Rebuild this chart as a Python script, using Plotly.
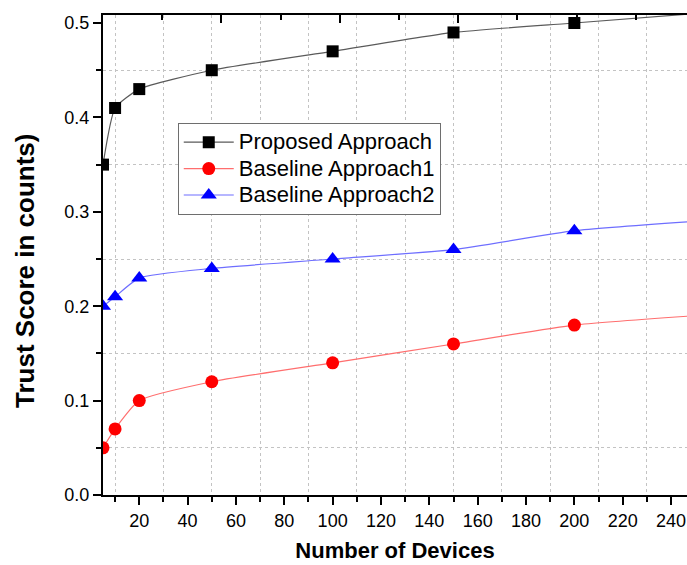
import plotly.graph_objects as go

devices = [5, 10, 20, 50, 100, 150, 200, 250]
proposed = [0.35, 0.41, 0.43, 0.45, 0.47, 0.49, 0.50, 0.51]
baseline1 = [0.05, 0.07, 0.10, 0.12, 0.14, 0.16, 0.18, 0.19]
baseline2 = [0.20, 0.21, 0.23, 0.24, 0.25, 0.26, 0.28, 0.29]
names = ["Proposed Approach", "Baseline Approach1", "Baseline Approach2"]
x_ticks = [20, 40, 60, 80, 100, 120, 140, 160, 180, 200, 220, 240]
x_grid = [10, 30, 50, 70, 90, 110, 130, 150, 170, 190, 210, 230]
y_ticks = [0.0, 0.1, 0.2, 0.3, 0.4, 0.5]
y_grid = [0.05, 0.15, 0.25, 0.35, 0.45]

FONT = "Liberation Sans, Arial, sans-serif"

fig = go.Figure()
series = [
    (proposed, names[0], "rgb(90,90,90)", "black", "square", 12),
    (baseline1, names[1], "rgb(255,110,110)", "red", "circle", 13),
    (baseline2, names[2], "rgb(110,110,255)", "blue", "triangle-up", 14),
]
for vals, nm, lc, mc, sym, ms in series:
    fig.add_trace(go.Scatter(
        x=devices, y=vals, name='<span style="font-size:22px">' + nm + '</span>',
        mode="lines+markers",
        line=dict(color=lc, width=1.2, shape="spline", smoothing=0.5),
        marker=dict(color=mc, symbol=sym, size=ms, line=dict(width=0)),
    ))

# invisible trace for the top (mirror) axis
fig.add_trace(go.Scatter(x=[0, 246.6], y=[0, 0], xaxis="x2", yaxis="y",
                         mode="markers", marker=dict(opacity=0),
                         showlegend=False, hoverinfo="skip"))

fig.update_layout(
    template="none",
    width=687, height=565,
    margin=dict(l=103, r=0, t=15, b=70),
    paper_bgcolor="white", plot_bgcolor="white",
    font=dict(family=FONT, color="black"),
    showlegend=True,
    legend=dict(x=0.128, y=0.775, xanchor="left", yanchor="top",
                bgcolor="white", bordercolor="rgb(110,110,110)", borderwidth=1,
                font=dict(size=18, family=FONT), tracegroupgap=0,
                itemwidth=50),
    xaxis=dict(
        range=[5, 246.6], tickvals=x_ticks, ticks="outside", ticklen=8,
        tickwidth=2, tickcolor="black", showline=True, linewidth=2,
        linecolor="black", showgrid=False, zeroline=False,
        tickfont=dict(size=18, family=FONT),
        minor=dict(tickvals=x_grid,
                   ticks="outside", ticklen=5, tickwidth=2, tickcolor="black",
                   showgrid=True, gridcolor="rgb(195,195,195)", griddash="dot",
                   gridwidth=1),
        title=dict(text="<b>Number of Devices</b>", font=dict(size=22, family=FONT),
                   standoff=13),
    ),
    xaxis2=dict(
        overlaying="x", side="top", range=[0, 246.6], anchor="y",
        tickvals=[50, 100, 150, 200], ticks="inside", ticklen=8, tickwidth=2,
        tickcolor="black", showticklabels=False, showline=True, linewidth=2,
        linecolor="black", showgrid=False, zeroline=False,
        minor=dict(tickvals=[25, 75, 125, 175, 225], ticks="inside", ticklen=5,
                   tickwidth=2, tickcolor="black", showgrid=False),
    ),
    yaxis=dict(
        range=[0, 0.5085], tickvals=y_ticks, tickformat=".1f",
        ticks="outside", ticklen=8, tickwidth=2, tickcolor="black",
        showline=True, linewidth=2, linecolor="black", showgrid=False,
        zeroline=False, tickfont=dict(size=18, family=FONT),
        minor=dict(tickvals=y_grid, ticks="outside", ticklen=5, tickwidth=2,
                   tickcolor="black", showgrid=True, gridcolor="rgb(195,195,195)",
                   griddash="dot", gridwidth=1),
    ),
    annotations=[dict(
        text="<b>Trust Score in counts)</b>", textangle=-90,
        xref="paper", yref="paper", x=(25 - 103) / 584, y=(495 - 271) / 480,
        xanchor="center", yanchor="middle", showarrow=False,
        font=dict(size=26, family=FONT, color="black"),
    )],
)

fig.write_html("out.html")
